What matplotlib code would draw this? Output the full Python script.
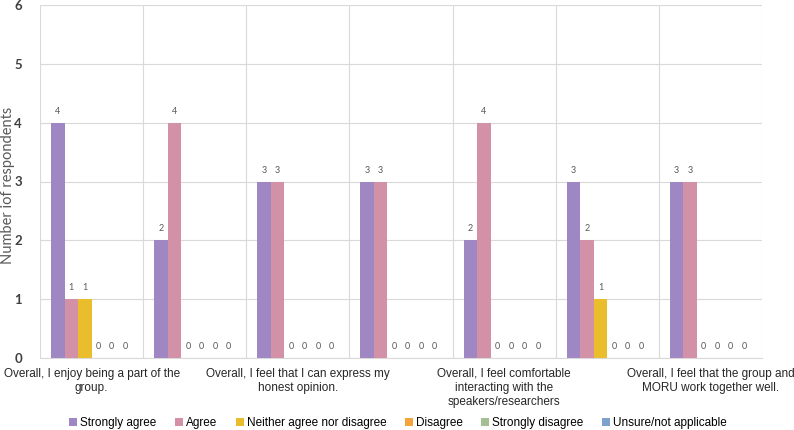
import matplotlib
matplotlib.use("Agg")
import matplotlib.pyplot as plt
import numpy as np

categories = [
    "Overall, I enjoy being a part of the\ngroup.",
    "",
    "Overall, I feel that I can express my\nhonest opinion.",
    "",
    "Overall, I feel comfortable\ninteracting with the\nspeakers/researchers",
    "",
    "Overall, I feel that the group and\nMORU work together well.",
]
series_names = ["Strongly agree", "Agree", "Neither agree nor disagree",
                "Disagree", "Strongly disagree", "Unsure/not applicable"]
strongly_agree = [4, 2, 3, 3, 2, 3, 3]
agree = [1, 4, 3, 3, 4, 2, 3]
neither = [1, 0, 0, 0, 0, 1, 0]
disagree = [0, 0, 0, 0, 0, 0, 0]
strongly_disagree = [0, 0, 0, 0, 0, 0, 0]
unsure = [0, 0, 0, 0, 0, 0, 0]
series_values = [strongly_agree, agree, neither, disagree, strongly_disagree, unsure]
colors = ["#9E87C2", "#D391A7", "#E9BD2B", "#F4A43C", "#A5BF94", "#7EA2CC"]

fig = plt.figure(figsize=(7.94, 4.30), dpi=100)
ax = fig.add_axes([40/794, 1-358/430, (762-40)/794, (358-5)/430])

x = np.arange(len(categories))
w = 0.131
for j, (name, vals, c) in enumerate(zip(series_names, series_values, colors)):
    pos = x + (j - 2.5) * w
    ax.bar(pos, vals, width=w, color=c, label=name, zorder=3)
    for p, v in zip(pos, vals):
        ax.annotate(str(v), (p, v), xytext=(0, 5), textcoords="offset points",
                    ha="center", va="bottom", fontsize=6.5, color="#595959",
                    family="Lato")

ax.set_xlim(-0.5, len(categories) - 0.5)
ax.set_ylim(0, 6)
ax.set_yticks(range(0, 7))
ax.set_yticklabels([str(i) for i in range(0, 7)], fontsize=9.5, fontweight="bold",
                   color="#404040", family="Lato")
ax.set_xticks(x)
ax.set_xticklabels(categories, fontsize=8.5, color="#262626", family="Liberation Sans",
                   linespacing=1.25)
ax.set_xticks(np.arange(-0.5, len(categories), 1.0), minor=True)
ax.tick_params(axis="both", which="both", length=0)
ax.tick_params(axis="y", pad=13)
ax.tick_params(axis="x", pad=7)
ax.grid(axis="y", which="major", color="#D9D9D9", linewidth=0.8, zorder=0)
ax.grid(axis="x", which="minor", color="#D9D9D9", linewidth=0.8, zorder=0)
ax.grid(axis="x", which="major", visible=False)
for s in ["top", "right", "left"]:
    ax.spines[s].set_visible(False)
ax.spines["bottom"].set_color("#D9D9D9")

ax.set_ylabel("Number iof respondents", fontsize=10.5, color="#595959", family="Lato")
ax.yaxis.set_label_coords(-25/722, 0.49)

fig.legend(loc="center", bbox_to_anchor=(398/794, 1-423/430), ncol=6, frameon=False,
           handlelength=0.7, handleheight=0.7, handletextpad=0.25,
           columnspacing=1.55, prop={"family": "Liberation Sans", "size": 8.5})

fig.savefig("out.png", dpi=100)
